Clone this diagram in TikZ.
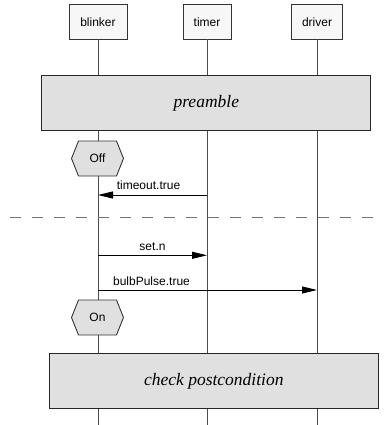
\documentclass[tikz,border=0pt]{standalone}
\usepackage{fontspec}
\setmainfont{Liberation Serif}
\setsansfont{Liberation Sans}
\usetikzlibrary{arrows.meta}
\tikzset{
  head/.style={draw=black!80,fill=black!3,font=\sffamily\fontsize{12}{14}\selectfont,
    minimum height=35pt,inner sep=0pt,outer sep=0pt},
  life/.style={draw=black!70,line width=1pt},
  block/.style={draw=black!85,fill=black!12,line width=0.9pt,
    font=\itshape\fontsize{17.5}{20}\selectfont,inner sep=0pt,outer sep=0pt},
  hexline/.style={draw=black!80,fill=black!12,line width=0.9pt},
  statetext/.style={inner sep=0pt,font=\sffamily\fontsize{12}{14}\selectfont},
  msg/.style={draw=black,line width=0.9pt,-{Triangle[length=15pt,width=7pt]}},
  msglabel/.style={font=\sffamily\fontsize{12}{14}\selectfont,anchor=base,inner sep=0pt},
  sep/.style={draw=black!55,line width=1.2pt,dash pattern=on 11pt off 11pt}
}
% state hexagon: name, centre, text
\newcommand\statehex[3]{%
  \filldraw[hexline] (#2) ++(-26,0) -- ++(7,-17.5) -- ++(38,0) -- ++(7,17.5)
    -- ++(-7,17.5) -- ++(-38,0) -- cycle;
  \node[statetext] (#1) at (#2) {#3};}
\begin{document}
\begin{tikzpicture}[x=1pt,y=-1pt]
        \useasboundingbox (0,0) rectangle (384,425);
        % instances
        \node[head,minimum width=58pt] (blinker) at (98,22) {blinker};
        \node[head,minimum width=48pt] (timer) at (207,22) {timer};
        \node[head,minimum width=51pt] (driver) at (317,22) {driver};
        \coordinate (bottom) at (0,425);
        \foreach \h in {blinker,timer,driver}
            \draw[life] (\h.south) -- (\h |- bottom);
        % blocks
        \node[block,minimum width=329pt,minimum height=55pt] (pre) at (206.3,103.3) {preamble};
        \node[block,minimum width=329pt,minimum height=55pt] (post) at (213.8,380.8) {check postcondition};
        % states
        \statehex{off}{97.5,158.5}{Off}
        \statehex{on}{97.5,317.5}{On}
        % messages
        \coordinate (m1) at (0,195);
        \coordinate (m2) at (0,255.3);
        \coordinate (m3) at (0,290);
        \draw[msg] (timer |- m1) -- (blinker |- m1);
        \node[msglabel] (l1) at (148.5,189.5) {timeout.true};
        \draw[sep] (10,217.3) -- (384,217.3);
        \draw[msg] (blinker |- m2) -- (timer |- m2);
        \node[msglabel] (l2) at (152.5,250.5) {set.n};
        \draw[msg] (blinker |- m3) -- (driver |- m3);
        \node[msglabel] (l3) at (151.5,285) {bulbPulse.true};
    \end{tikzpicture}
\end{document}
